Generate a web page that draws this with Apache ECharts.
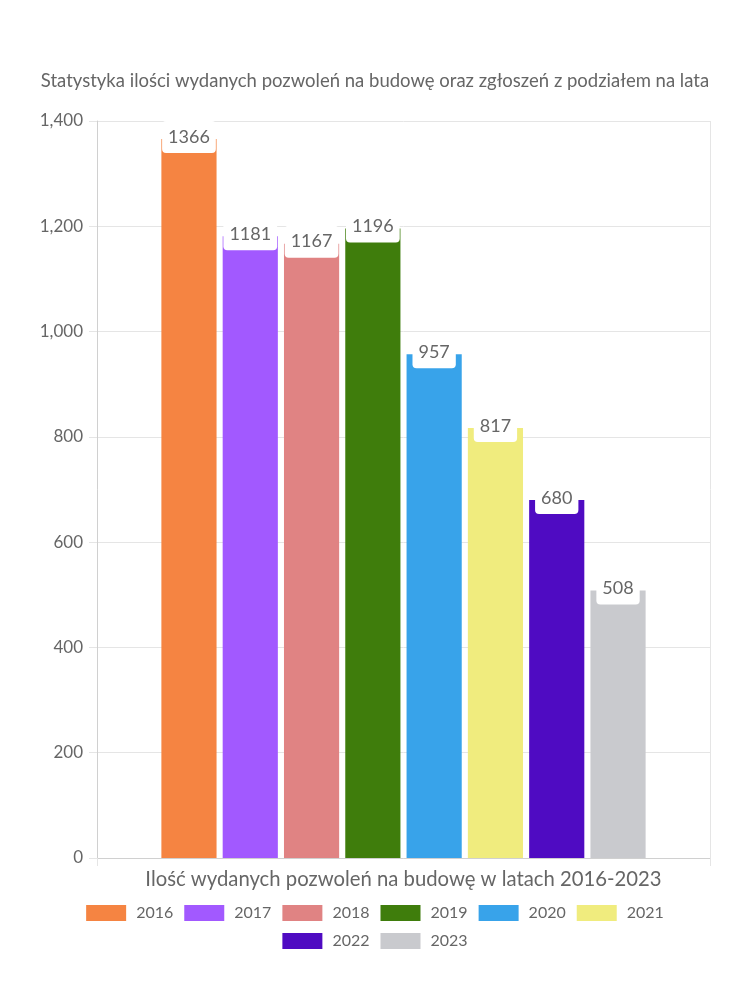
<!DOCTYPE html>
<html>
<head>
<meta charset="utf-8">
<script src="https://cdn.jsdelivr.net/npm/echarts@6/dist/echarts.min.js"></script>
<style>
html,body{margin:0;padding:0;background:#fff;}
#c{width:750px;height:1000px;}
</style>
</head>
<body>
<div id="c"></div>
<script>
var titleText = 'Statystyka ilości wydanych pozwoleń na budowę oraz zgłoszeń z podziałem na lata';
var categories = ['Ilość wydanych pozwoleń na budowę w latach 2016-2023'];
var years = ['2016','2017','2018','2019','2020','2021','2022','2023'];
var values = [1366, 1181, 1167, 1196, 957, 817, 680, 508];
var colors = ['#F58442','#A259FF','#E08383','#3F7D0C','#38A3EA','#F0EC7E','#4F0BC2','#C9CACE'];
var yTicks = [0, 200, 400, 600, 800, 1000, 1200, 1400];

var FONT = 'Lato';
var TXT = '#666666';

var series = years.map(function (y, i) {
  return {
    name: y,
    type: 'bar',
    data: [values[i]],
    barWidth: '9%',
    barGap: '11.1%',
    itemStyle: { color: colors[i] },
    label: {
      show: true,
      position: 'insideTop',
      distance: 0,
      offset: [0, -18],
      color: TXT,
      fontFamily: FONT,
      fontSize: 18,
      lineHeight: 22,
      backgroundColor: '#ffffff',
      padding: [5, 6, 5, 6],
      borderRadius: 4
    }
  };
});

var legendBase = {
  left: 'center',
  itemWidth: 40,
  itemHeight: 16,
  itemGap: 11,
  icon: 'rect',
  textStyle: { color: TXT, fontFamily: FONT, fontSize: 16, padding: [0, 0, 0, 5] }
};

var chart = echarts.init(document.getElementById('c'), null, { renderer: 'canvas' });
chart.setOption({
  animation: false,
  color: colors,
  title: {
    text: titleText,
    left: 'center',
    top: 67,
    textStyle: { color: TXT, fontFamily: FONT, fontSize: 18.5, fontWeight: 'normal' }
  },
  legend: [
    Object.assign({}, legendBase, { data: years.slice(0, 6), top: 900 }),
    Object.assign({}, legendBase, { data: years.slice(6), top: 928 })
  ],
  grid: { left: 97, right: 40, top: 121, bottom: 142, containLabel: false },
  xAxis: {
    type: 'category',
    data: categories,
    axisLine: { show: true, lineStyle: { color: '#d0d0d0' } },
    axisTick: { show: true, length: 8, lineStyle: { color: '#e5e5e5' } },
    axisLabel: { color: TXT, fontFamily: FONT, fontSize: 20.3, margin: 11 },
    splitLine: { show: true, lineStyle: { color: '#e5e5e5' } }
  },
  yAxis: {
    type: 'value',
    min: 0,
    max: 1400,
    interval: 200,
    axisLine: { show: true, lineStyle: { color: '#d0d0d0' } },
    axisTick: { show: true, length: 8, lineStyle: { color: '#e5e5e5' } },
    axisLabel: {
      color: TXT, fontFamily: FONT, fontSize: 17, margin: 14,
      formatter: function (v) { return yTicks.indexOf(v) >= 0 ? v.toLocaleString('en-US') : ''; }
    },
    splitLine: { show: true, lineStyle: { color: '#e5e5e5' } }
  },
  series: series
});
</script>
</body>
</html>
